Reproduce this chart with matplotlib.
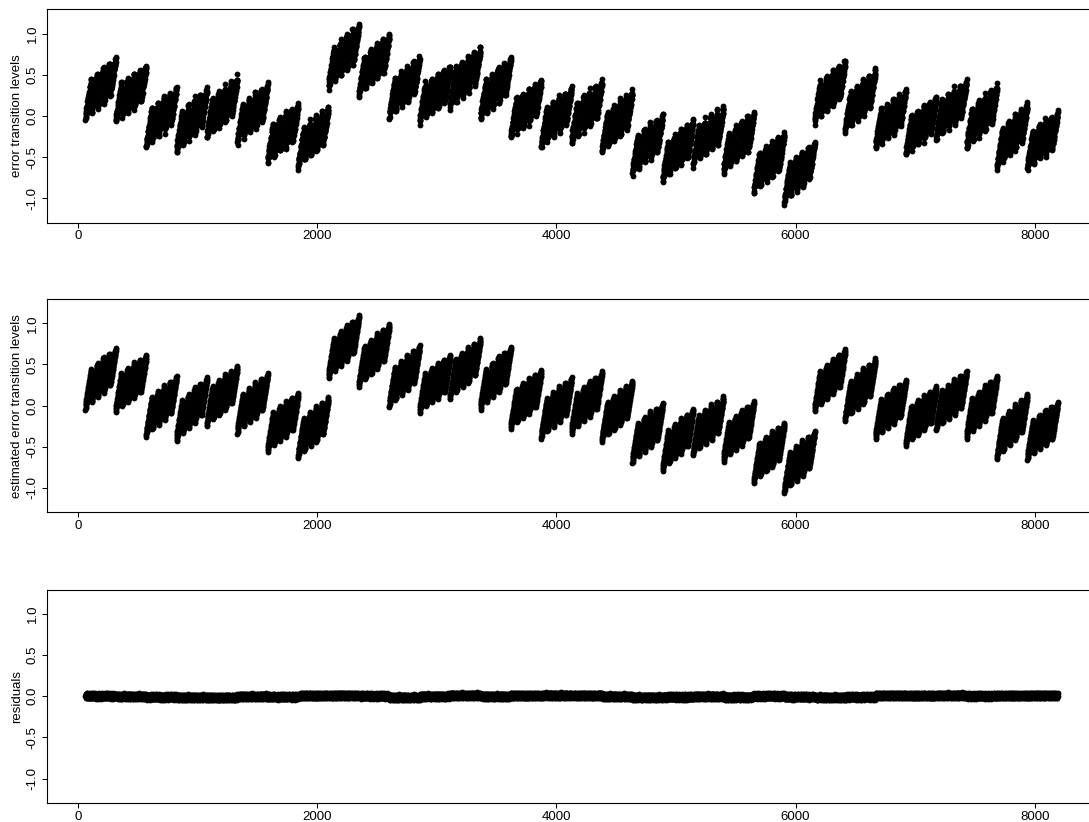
import numpy as np
import matplotlib.pyplot as plt

plt.rcParams['font.family'] = ['Liberation Sans', 'DejaVu Sans']

# ------------------------------------------------------------------
# data: 32 blocks of 254 codes (64 .. 8191)
# lowest / highest level of each block (estimated error transition levels)
# ------------------------------------------------------------------
block_lo = [-0.05, -0.08, -0.38, -0.43, -0.25, -0.34, -0.56, -0.64,
            0.33, 0.23, -0.02, -0.09, 0.08, -0.05, -0.28, -0.40,
            -0.34, -0.44, -0.70, -0.79, -0.60, -0.68, -0.94, -1.06,
            -0.07, -0.19, -0.41, -0.49, -0.30, -0.40, -0.65, -0.66]
block_hi = [0.74, 0.65, 0.40, 0.38, 0.52, 0.43, 0.19, 0.14,
            1.13, 1.03, 0.77, 0.65, 0.86, 0.75, 0.47, 0.38,
            0.45, 0.34, 0.07, 0.00, 0.15, 0.09, -0.17, -0.27,
            0.72, 0.61, 0.35, 0.27, 0.46, 0.40, 0.18, 0.08]
# slow drift of the residuals per block (bottom panel)
resid_offset = [0.005, 0.0, -0.008, -0.012, -0.015, 0.0, -0.005, 0.008,
                0.01, 0.005, -0.012, 0.0, 0.012, 0.0, 0.008, 0.012,
                0.01, 0.0, -0.012, -0.008, 0.0, -0.01, 0.005, -0.005,
                -0.012, -0.008, 0.01, 0.008, 0.012, 0.005, 0.008, 0.01]

first_code = 64
block_len = 254
n_sub = 5           # rising sub-ramps inside each block
sub_amp = 0.40      # height of one sub-ramp
fine_period = 8
fine_amp = 0.07
resid_amp = 0.035

# ------------------------------------------------------------------
# build the series
# ------------------------------------------------------------------
n_blocks = len(block_lo)
x = np.arange(first_code, first_code + n_blocks * block_len)
j = np.arange(block_len)
sub_pos = (j * n_sub / block_len) % 1.0
fine_pos = (j % fine_period) / fine_period

est = []
resid = []
for k in range(n_blocks):
    ramp = block_hi[k] - block_lo[k] - sub_amp - fine_amp
    est.append(block_lo[k] + ramp * j / block_len + sub_amp * sub_pos + fine_amp * fine_pos)
    dither = resid_amp * np.sin(j * 2.39996 + k) * np.cos(j * 0.613 + 0.5 * k)
    resid.append(resid_offset[k] + dither)
est = np.concatenate(est)
resid = np.concatenate(resid)
true_levels = est + resid

# ------------------------------------------------------------------
# figure : three stacked panels, R base-graphics look
# ------------------------------------------------------------------
W, H = 1089, 822
fig = plt.figure(figsize=(W / 100, H / 100), dpi=100)

ax_left = 46.6 / W
ax_width = 1050 / W
panels = [
    (true_levels, 'error transition levels', 222.7),
    (est, 'estimated error transition levels', 512.3),
    (resid, 'residuals', 803.0),
]

for y, label, bottom_px in panels:
    ax = fig.add_axes([ax_left, (H - bottom_px) / H, ax_width, 213.4 / H])
    ax.plot(x, y, 'o', color='black', ms=4.2, mew=0)
    ax.set_xlim(-261, 8516)
    ax.set_ylim(-1.296, 1.296)
    ax.set_xticks([0, 2000, 4000, 6000, 8000])
    ax.set_xticklabels(['0', '2000', '4000', '6000', '8000'])
    ax.set_yticks([-1.0, -0.5, 0.0, 0.5, 1.0])
    ax.set_yticklabels(['-1.0', '-0.5', '0.0', '0.5', '1.0'], rotation=90, va='center')
    ax.tick_params(direction='out', length=3.6, width=0.75, pad=2, labelsize=9.5, colors='black')
    for s in ax.spines.values():
        s.set_linewidth(0.8)
        s.set_color('black')
    ax.spines['right'].set_visible(False)
    ax.set_ylabel(label, fontsize=9.5)
    ax.yaxis.set_label_coords(-0.022, 0.5)

fig.savefig('out.png', dpi=100, facecolor='white')
